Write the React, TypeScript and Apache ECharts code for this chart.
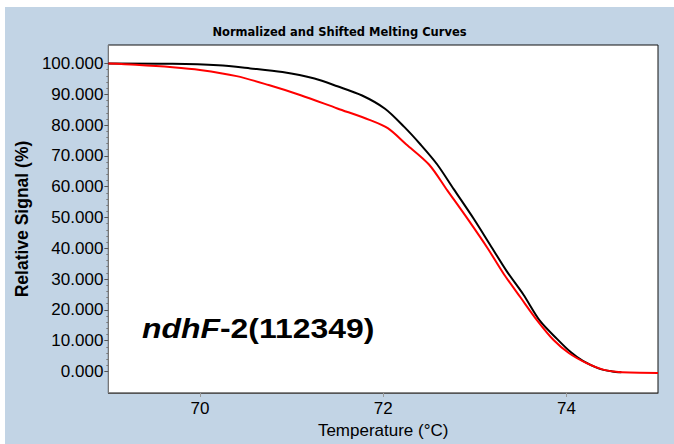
import React, { useEffect, useRef } from "react";
import * as echarts from "echarts";

const titleText = "Normalized and Shifted Melting Curves";
const xName = "Temperature (°C)";
const yName = "Relative Signal (%)";
const annotationItalic = "ndhF";
const annotationPlain = "-2(112349)";

const xLabelValues = [70, 72, 74];
const yLabelValues = [0, 10, 20, 30, 40, 50, 60, 70, 80, 90, 100];
const yMinorValues = [
  2, 4, 6, 8, 12, 14, 16, 18, 22, 24, 26, 28, 32, 34, 36, 38, 42, 44, 46, 48,
  52, 54, 56, 58, 62, 64, 66, 68, 72, 74, 76, 78, 82, 84, 86, 88, 92, 94, 96, 98,
];

const tempsBlack = [
  69.0, 69.7, 70.2, 70.55, 70.9, 71.25, 71.5, 71.77, 72.02, 72.23, 72.41, 72.59,
  72.77, 72.99, 73.17, 73.35, 73.53, 73.71, 73.9, 74.05, 74.18, 74.35, 74.5, 74.6,
];
const signalBlack = [
  100.0, 99.9, 99.4, 98.4, 97.2, 95.1, 92.6, 89.6, 85.3, 79.4, 73.6, 67.2,
  59.2, 49.5, 41.0, 32.5, 25.0, 16.5, 10.5, 6.2, 3.4, 1.0, 0.0, -0.3,
];

const tempsRed = [
  69.0, 69.3, 69.7, 70.0, 70.4, 70.75, 71.1, 71.5, 71.85, 72.05, 72.25, 72.5,
  72.7, 72.92, 73.14, 73.32, 73.5, 73.68, 73.86, 74.03, 74.22, 74.4, 74.57, 75.0,
];
const signalRed = [
  100.0, 99.6, 98.8, 97.9, 95.9, 93.0, 89.7, 85.4, 81.7, 79.0, 73.8, 67.2,
  58.8, 49.6, 40.0, 31.5, 24.0, 16.6, 10.2, 5.9, 2.7, 0.6, -0.2, -0.5,
];

const pairs = (xs: number[], ys: number[]) => xs.map((x, i) => [x, ys[i]]);

export default function App() {
  const ref = useRef<HTMLDivElement>(null);
  useEffect(() => {
    if (!ref.current) return;
    const chart = echarts.init(ref.current, null, { renderer: "svg" });
    const font = "'Liberation Sans', Arial, sans-serif";
    chart.setOption({
      animation: false,
      backgroundColor: "#c2d4e5",
      title: {
        text: titleText,
        left: "center",
        top: 14,
        textStyle: {
          fontFamily: "'DejaVu Sans', sans-serif",
          fontSize: 11.5,
          fontWeight: "bold",
          color: "#000",
        },
      },
      grid: {
        left: 100,
        top: 38,
        width: 553,
        height: 354,
        show: true,
        backgroundColor: "#ffffff",
        borderColor: "#111",
        borderWidth: 1,
      },
      xAxis: {
        type: "value",
        min: 69,
        max: 75,
        name: xName,
        nameLocation: "middle",
        nameGap: 29,
        nameTextStyle: { fontFamily: font, fontSize: 17, color: "#000" },
        axisLine: { show: true, onZero: false, lineStyle: { color: "#555", width: 1 } },
        axisTick: {
          show: true,
          customValues: xLabelValues,
          length: 4,
          lineStyle: { color: "#999" },
        },
        axisLabel: {
          customValues: xLabelValues,
          fontFamily: font,
          fontSize: 17,
          color: "#000",
          margin: 7,
        },
        splitLine: { show: false },
      },
      yAxis: [
        {
          type: "value",
          min: -7,
          max: 106,
          name: yName,
          nameLocation: "middle",
          nameGap: 72,
          nameTextStyle: {
            fontFamily: font,
            fontSize: 17.5,
            fontWeight: "bold",
            color: "#000",
          },
          axisLine: { show: true, onZero: false, lineStyle: { color: "#777", width: 1 } },
          axisTick: {
            show: true,
            customValues: yLabelValues,
            length: 4,
            lineStyle: { color: "#555" },
          },
          axisLabel: {
            customValues: yLabelValues,
            formatter: (v: number) => v.toFixed(3),
            fontFamily: font,
            fontSize: 17,
            color: "#000",
            margin: 5,
          },
          splitLine: { show: false },
        },
        {
          type: "value",
          min: -7,
          max: 106,
          position: "left",
          axisLine: { show: false, onZero: false },
          axisTick: {
            show: true,
            customValues: yMinorValues,
            length: 2,
            lineStyle: { color: "#777" },
          },
          axisLabel: { show: false },
          splitLine: { show: false },
        },
      ],
      graphic: [
        {
          type: "text",
          x: 137,
          y: 321,
          scaleX: 1.14,
          style: {
            text: `{i|${annotationItalic}}{b|${annotationPlain}}`,
            verticalAlign: "middle",
            rich: {
              i: {
                fontFamily: font,
                fontSize: 28,
                fontWeight: "bold",
                fontStyle: "italic",
                fill: "#000",
              },
              b: {
                fontFamily: font,
                fontSize: 28,
                fontWeight: "bold",
                fill: "#000",
              },
            },
          },
        },
      ],
      series: [
        {
          type: "line",
          data: pairs(tempsBlack, signalBlack),
          showSymbol: false,
          smooth: 0.3,
          lineStyle: { color: "#000", width: 2 },
          itemStyle: { color: "#000" },
        },
        {
          type: "line",
          data: pairs(tempsRed, signalRed),
          showSymbol: false,
          smooth: 0.3,
          lineStyle: { color: "#ff0000", width: 2 },
          itemStyle: { color: "#ff0000" },
        },
      ],
    });
    return () => chart.dispose();
  }, []);
  return (
    <div
      style={{
        position: "fixed",
        left: 0,
        top: 0,
        width: 674,
        height: 444,
        background: "#ffffff",
      }}
    >
      <div
        ref={ref}
        style={{ position: "absolute", left: 5, top: 7, width: 669, height: 437 }}
      />
    </div>
  );
}
